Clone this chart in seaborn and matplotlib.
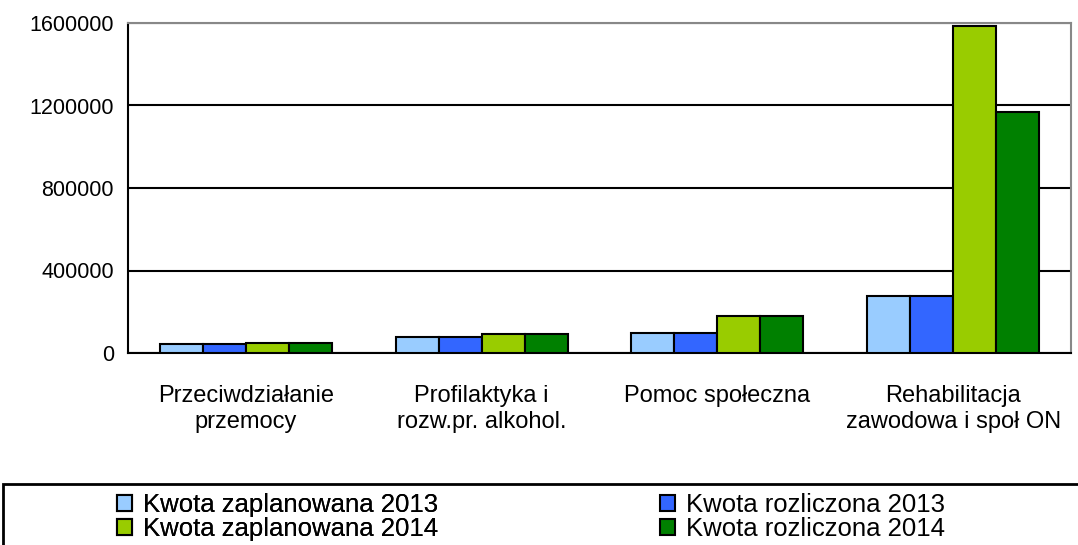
import numpy as np
import pandas as pd
import matplotlib
matplotlib.use("Agg")
import matplotlib.pyplot as plt
import seaborn as sns
from matplotlib.patches import Rectangle

# data
categories = ["Przeciwdziałanie\nprzemocy", "Profilaktyka i\nrozw.pr. alkohol.",
              "Pomoc społeczna", "Rehabilitacja\nzawodowa i społ ON"]
series = ["Kwota zaplanowana 2013", "Kwota rozliczona 2013",
          "Kwota zaplanowana 2014", "Kwota rozliczona 2014"]
plan_2013 = [46000, 78000, 96000, 277000]
rozl_2013 = [46000, 78000, 96000, 276000]
plan_2014 = [47000, 94000, 177000, 1585000]
rozl_2014 = [47000, 94000, 177000, 1170000]
colors = ["#99CCFF", "#3366FF", "#99CC00", "#008000"]
y_ticks = [0, 400000, 800000, 1200000, 1600000]

rows = []
for s, vals in zip(series, [plan_2013, rozl_2013, plan_2014, rozl_2014]):
    for c, v in zip(categories, vals):
        rows.append({"kategoria": c, "seria": s, "kwota": v})
df = pd.DataFrame(rows)

sns.set_style("white")
plt.rcParams["font.family"] = ["Liberation Sans", "DejaVu Sans"]
plt.rcParams["text.color"] = "black"
plt.rcParams["xtick.color"] = "black"
plt.rcParams["ytick.color"] = "black"

fig = plt.figure(figsize=(10.78, 5.45), dpi=100)
ax = fig.add_axes([128 / 1078, 1 - 353 / 545, (1071 - 128) / 1078, (353 - 23) / 545])

sns.barplot(data=df, x="kategoria", y="kwota", hue="seria", palette=colors,
            order=categories, hue_order=series, width=0.73, gap=0, saturation=1,
            edgecolor="black", linewidth=1.5, ax=ax, zorder=3)

handles, labels = ax.get_legend_handles_labels()
ax.get_legend().remove()

ax.set_xlim(-0.5, 3.5)
ax.set_ylim(0, 1600000)
ax.set_yticks(y_ticks)
ax.set_yticklabels([str(t) for t in y_ticks], fontsize=15.5)
ax.set_xlabel("")
ax.set_ylabel("")

# black gridlines, gray frame on top/right
ax.yaxis.grid(True, color="black", linewidth=1.5, zorder=0)
ax.set_axisbelow(True)
for side in ["left", "bottom"]:
    ax.spines[side].set_color("black")
    ax.spines[side].set_linewidth(1.5)
for side in ["top", "right"]:
    ax.spines[side].set_color("#888888")
    ax.spines[side].set_linewidth(1.5)

ax.tick_params(axis="y", direction="out", length=5, width=1.5, colors="black", pad=5)
ax.tick_params(axis="x", which="major", length=0, pad=23, labelsize=17, labelcolor="black")
ax.set_xticks(np.arange(-0.5, 4, 1.0), minor=True)
ax.tick_params(axis="x", which="minor", direction="out", length=6, width=1.5, color="black")
for lbl in ax.get_xticklabels():
    lbl.set_linespacing(1.25)
    lbl.set_horizontalalignment("center")

# legend box across the bottom
fig.patches.append(Rectangle((3 / 1078, -0.1), 1.1, 1 - 484 / 545 + 0.1,
                             transform=fig.transFigure, fill=False,
                             edgecolor="black", linewidth=2))
leg_kw = dict(loc="upper left", frameon=False, handlelength=0.6, handleheight=0.6,
              handletextpad=0.43, labelspacing=0.0, borderaxespad=0, borderpad=0,
              fontsize=18.5, labelcolor="black")
leg1 = fig.legend([handles[0], handles[2]], [labels[0], labels[2]],
                  bbox_to_anchor=(117 / 1078, 1 - 493 / 545), **leg_kw)
fig.add_artist(leg1)
fig.legend([handles[1], handles[3]], [labels[1], labels[3]],
           bbox_to_anchor=(660 / 1078, 1 - 493 / 545), **leg_kw)

fig.savefig("out.png", dpi=100)
